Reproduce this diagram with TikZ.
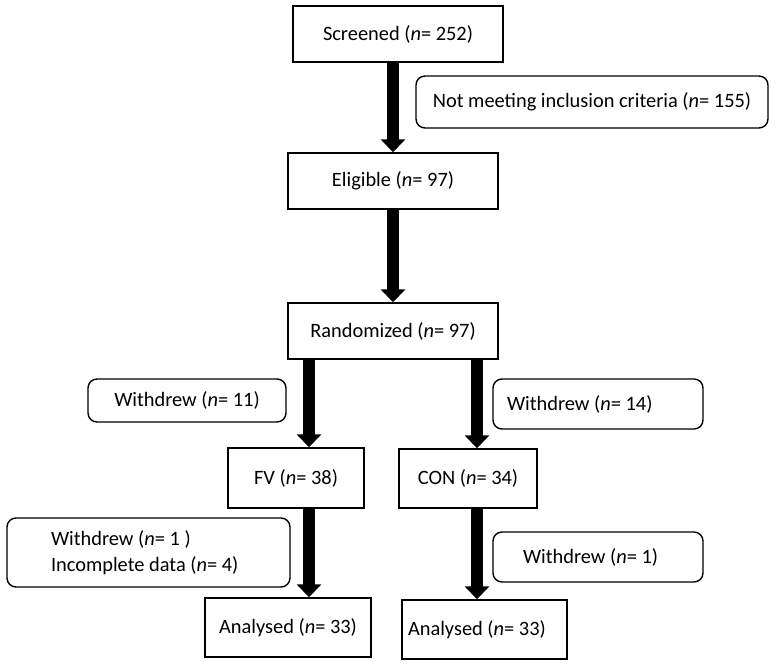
\documentclass[tikz,border=0pt]{standalone}
\usepackage{fontspec}
\setmainfont{Carlito}
\usetikzlibrary{arrows.meta,positioning}

\begin{document}
\begin{tikzpicture}[x=1pt, y=-1pt,
	box/.style = {draw, line width=1.4pt, inner sep=0pt, align=center},
	note/.style = {box, rounded corners=9pt},
	flow/.style = {line width=12pt, -{Triangle[width=24pt,length=13pt]}}]
	\fontsize{20.4}{25.5}\selectfont
	\useasboundingbox (0,0) rectangle (780,666);
	% main line
	\node[box, minimum width=210pt, minimum height=56pt] (screened) at (398,34) {Screened (\textit{n}= 252)};
	\node[note, minimum width=352pt, minimum height=52pt] (excluded) at (592,102) {Not meeting inclusion criteria (\textit{n}= 155)};
	\node[box, minimum width=210pt, minimum height=56pt] (eligible) at (393,181) {Eligible (\textit{n}= 97)};
	\node[box, minimum width=210pt, minimum height=56pt] (randomized) at (393,331) {Randomized (\textit{n}= 97)};
	% two arms
	\node[note, minimum width=198pt, minimum height=43pt] (withdrewFV) at (187,400.5) {Withdrew (\textit{n}= 11)};
	\node[note, minimum height=50pt, text width=182pt, align=flush left, inner xsep=14pt] (withdrewCON) at (598,404) {Withdrew (\textit{n}= 14)};
	\node[box, minimum width=136pt, minimum height=60pt] (fv) at (296,478) {\raisebox{-5pt}{FV (\textit{n}= 38)}};
	\node[box, minimum width=138pt, minimum height=59pt] (con) at (468,478.5) {\raisebox{-6pt}{CON (\textit{n}= 34)}};
	\node[note, minimum height=69pt, text width=195pt, align=flush left, inner xsep=44pt] (lostFV) at (148.5,552.5) {Withdrew (\textit{n}= 1 )\\Incomplete data (\textit{n}= 4)};
	\node[note, minimum height=50pt, text width=150pt, align=flush left, inner xsep=30pt] (lostCON) at (598,557) {Withdrew (\textit{n}= 1)};
	\node[box, minimum width=166pt, minimum height=59pt] (analysedFV) at (288,627.5) {Analysed (\textit{n}= 33)};
	\node[box, minimum height=59pt, text width=153pt, align=flush left, inner xsep=6pt] (analysedCON) at (484.5,629.5) {Analysed (\textit{n}= 33)};
	% arrows
	\coordinate (leftx) at (309,0);
	\coordinate (rightx) at (477,0);
	\draw[flow] (screened.south -| eligible.north) -- (eligible.north);
	\draw[flow] (eligible) -- (randomized);
	\draw[flow] (randomized.south -| leftx) -- (fv.north -| leftx);
	\draw[flow] (randomized.south -| rightx) -- (con.north -| rightx);
	\draw[flow] (fv.south -| leftx) -- (analysedFV.north -| leftx);
	\draw[flow] (con.south -| rightx) -- (analysedCON.north -| rightx);
\end{tikzpicture}
\end{document}
